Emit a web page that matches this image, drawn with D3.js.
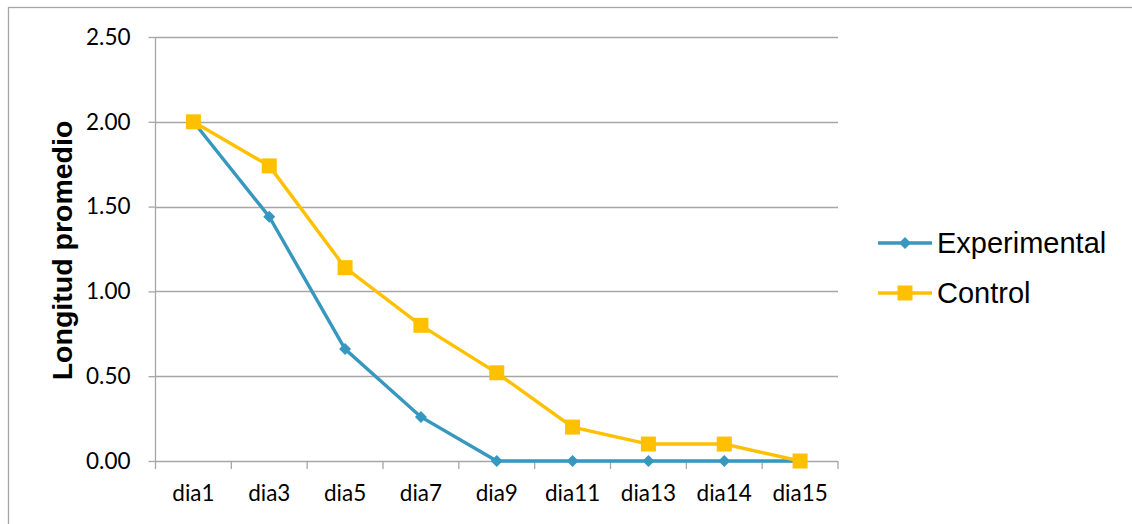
<!DOCTYPE html>
<html><head><meta charset="utf-8">
<script src="https://cdn.jsdelivr.net/npm/d3@7"></script>
<style>body{margin:0;background:#fff;} svg{display:block;}</style>
</head><body>
<svg id="c" width="1132" height="524"></svg>
<script>
const categories = ["dia1","dia3","dia5","dia7","dia9","dia11","dia13","dia14","dia15"];
const experimental = [2.00,1.44,0.66,0.26,0,0,0,0,0];
const control = [2.00,1.74,1.14,0.80,0.52,0.20,0.10,0.10,0.00];
const yTicks = [0,0.5,1,1.5,2,2.5];
const seriesNames = ["Experimental","Control"];

const svg = d3.select("#c");
svg.append("rect").attr("x",8.5).attr("y",7.5).attr("width",1140).attr("height",540)
  .attr("fill","none").attr("stroke","#a6a6a6").attr("stroke-width",1.3);

const L=155.5, R=838, T=37, B=461;
const x = d3.scaleBand().domain(categories).range([L,R]);
const y = d3.scaleLinear().domain([0,2.5]).range([B,T]);
const grid="#a6a6a6";
const tickFont="Lato, 'Open Sans', sans-serif";

// gridlines
svg.append("g").selectAll("line").data(yTicks.filter(d=>d>0)).join("line")
  .attr("x1",L).attr("x2",R).attr("y1",d=>Math.round(y(d))+0.5).attr("y2",d=>Math.round(y(d))+0.5)
  .attr("stroke",grid).attr("stroke-width",1.3);

// y axis
const ya = svg.append("g").attr("transform",`translate(${L},0)`)
  .call(d3.axisLeft(y).tickValues(yTicks).tickFormat(d3.format(".2f")).tickSize(7).tickPadding(18));
ya.select(".domain").attr("stroke",grid).attr("stroke-width",1.3).attr("d",`M-0,${B}V${T}`);
ya.selectAll(".tick line").attr("stroke",grid).attr("stroke-width",1.3);
ya.selectAll("text").attr("font-family",tickFont).attr("font-size",22.5).attr("fill","#000");

// x axis
const xa = svg.append("g").attr("transform",`translate(0,${B+0.5})`)
  .call(d3.axisBottom(x).tickSize(0).tickPadding(24));
xa.select(".domain").remove();
xa.selectAll("text").attr("font-family",tickFont).attr("font-size",22.5).attr("fill","#000");
svg.append("line").attr("x1",L).attr("x2",R).attr("y1",B+0.5).attr("y2",B+0.5).attr("stroke",grid).attr("stroke-width",1.3);
const edges = categories.map(c=>x(c)).concat([R]);
svg.append("g").selectAll("line").data(edges).join("line")
  .attr("x1",d=>d).attr("x2",d=>d).attr("y1",B).attr("y2",B+8).attr("stroke",grid).attr("stroke-width",1.3);

// y label
svg.append("text").attr("transform","translate(72,250.5) rotate(-90)").attr("text-anchor","middle")
  .attr("font-family","'Liberation Sans', Arial, sans-serif").attr("font-weight","bold").attr("font-size",28.5)
  .text("Longitud promedio");

const cx = d=>x(d)+x.bandwidth()/2;
const line = d3.line().x((v,i)=>cx(categories[i])).y(v=>y(v));
const blue="#3797bf", gold="#ffc000";

svg.append("path").attr("d",line(experimental)).attr("fill","none").attr("stroke",blue).attr("stroke-width",3.4);
svg.append("path").attr("d",line(control)).attr("fill","none").attr("stroke",gold).attr("stroke-width",3.4);

const dia = d3.symbol().type(d3.symbolSquare).size(72)();
svg.append("g").selectAll("path").data(experimental).join("path")
  .attr("d",dia)
  .attr("transform",(v,i)=>`translate(${cx(categories[i])},${y(v)}) rotate(45)`).attr("fill",blue);
svg.append("g").selectAll("rect").data(control).join("rect")
  .attr("x",(v,i)=>cx(categories[i])-7.5).attr("y",v=>y(v)-7.5).attr("width",15).attr("height",15).attr("fill",gold);

// legend
const lg = svg.append("g");
const ly=[243,293];
seriesNames.forEach((n,i)=>{
  const col = i===0?blue:gold;
  lg.append("line").attr("x1",878).attr("x2",932).attr("y1",ly[i]).attr("y2",ly[i]).attr("stroke",col).attr("stroke-width",3.4);
  if(i===0) lg.append("path").attr("d",dia).attr("transform",`translate(905,${ly[i]}) rotate(45)`).attr("fill",col);
  else lg.append("rect").attr("x",897.5).attr("y",ly[i]-7.5).attr("width",15).attr("height",15).attr("fill",col);
  lg.append("text").attr("x",937).attr("y",ly[i]+10).attr("font-family","'Liberation Sans', Arial, sans-serif").attr("font-size",29).text(n);
});
</script>
</body></html>
